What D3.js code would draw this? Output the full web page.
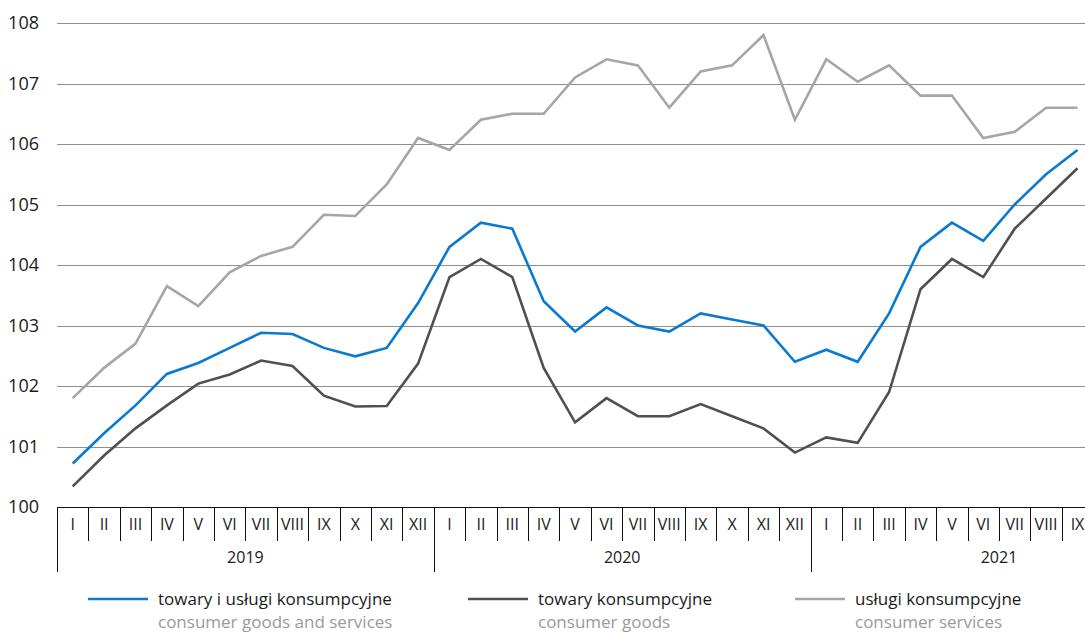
<!DOCTYPE html>
<html>
<head>
<meta charset="utf-8">
<script src="https://cdn.jsdelivr.net/npm/d3@7"></script>
<style>
  body { margin: 0; background: #fff; }
  svg { font-family: "Open Sans", "Noto Sans", sans-serif; }
</style>
</head>
<body>
<svg id="chart"></svg>
<script>
"use strict";

var periods = [
  "2019-I", "2019-II", "2019-III", "2019-IV", "2019-V", "2019-VI", "2019-VII", "2019-VIII", "2019-IX", "2019-X", "2019-XI", "2019-XII",
  "2020-I", "2020-II", "2020-III", "2020-IV", "2020-V", "2020-VI", "2020-VII", "2020-VIII", "2020-IX", "2020-X", "2020-XI", "2020-XII",
  "2021-I", "2021-II", "2021-III", "2021-IV", "2021-V", "2021-VI", "2021-VII", "2021-VIII", "2021-IX"
];
var years = ["2019", "2020", "2021"];
var yTicks = [100, 101, 102, 103, 104, 105, 106, 107, 108];

// towary i uslugi konsumpcyjne
var total = [
  100.72, 101.22, 101.68, 102.2, 102.38, 102.63, 102.88, 102.86, 102.63, 102.49, 102.63, 103.37,
  104.3, 104.7, 104.6, 103.4, 102.9, 103.3, 103.0, 102.9, 103.2, 103.1, 103.0, 102.4,
  102.6, 102.4, 103.2, 104.3, 104.7, 104.4, 105.0, 105.5, 105.9
];
// towary konsumpcyjne
var goods = [
  100.34, 100.85, 101.3, 101.68, 102.04, 102.19, 102.42, 102.33, 101.84, 101.66, 101.67, 102.37,
  103.8, 104.1, 103.8, 102.3, 101.4, 101.8, 101.5, 101.5, 101.7, 101.5, 101.3, 100.9,
  101.15, 101.06, 101.9, 103.6, 104.1, 103.8, 104.6, 105.1, 105.6
];
// uslugi konsumpcyjne
var services = [
  101.8, 102.3, 102.7, 103.65, 103.32, 103.88, 104.15, 104.3, 104.83, 104.81, 105.33, 106.1,
  105.9, 106.4, 106.5, 106.5, 107.1, 107.4, 107.3, 106.6, 107.2, 107.3, 107.8, 106.4,
  107.4, 107.03, 107.3, 106.8, 106.8, 106.1, 106.2, 106.6, 106.6
];

var series = [
  { pl: "towary i usługi konsumpcyjne", en: "consumer goods and services", values: total, color: "#0a7ad0" },
  { pl: "towary konsumpcyjne", en: "consumer goods", values: goods, color: "#505050" },
  { pl: "usługi konsumpcyjne", en: "consumer services", values: services, color: "#a6a6a6" }
];

var width = 1085, height = 634;
var marginLeft = 57, plotTop = 23, plotBottom = 507;
var step = 31.4;

var svg = d3.select("#chart").attr("width", width).attr("height", height);

var x = d3.scaleBand()
  .domain(periods)
  .range([marginLeft, marginLeft + periods.length * step])
  .padding(0);
var y = d3.scaleLinear().domain([100, 108]).range([plotBottom, plotTop]);

// gridlines + y labels
svg.append("g")
  .selectAll("line")
  .data(yTicks.slice(1))
  .enter()
  .append("line")
  .attr("x1", marginLeft)
  .attr("x2", width)
  .attr("y1", (d) => Math.round(y(d)) + 0.5)
  .attr("y2", (d) => Math.round(y(d)) + 0.5)
  .attr("stroke", "#8f8f8f")
  .attr("stroke-width", 1);

svg.append("g")
  .selectAll("text")
  .data(yTicks)
  .enter()
  .append("text")
  .attr("x", 39)
  .attr("y", (d) => y(d) + 6)
  .attr("text-anchor", "end")
  .attr("font-size", 18)
  .attr("fill", "#1a1a1a")
  .text((d) => d);

// x axis baseline
svg.append("line")
  .attr("x1", marginLeft)
  .attr("x2", width)
  .attr("y1", plotBottom + 0.5)
  .attr("y2", plotBottom + 0.5)
  .attr("stroke", "#111")
  .attr("stroke-width", 1);

// month separators, longer at year starts
var ax = svg.append("g");
ax.selectAll(".mtick")
  .data(periods)
  .enter()
  .append("line")
  .attr("class", "mtick")
  .attr("x1", (d) => Math.round(x(d)) + 0.5)
  .attr("x2", (d) => Math.round(x(d)) + 0.5)
  .attr("y1", plotBottom)
  .attr("y2", (d, i) => (i % 12 === 0 ? 572 : 541))
  .attr("stroke", "#111")
  .attr("stroke-width", 1);

ax.selectAll(".mlabel")
  .data(periods)
  .enter()
  .append("text")
  .attr("class", "mlabel")
  .attr("x", (d) => x(d) + x.bandwidth() / 2)
  .attr("y", 530)
  .attr("text-anchor", "middle")
  .attr("font-size", 16)
  .attr("fill", "#1a1a1a")
  .text((d) => d.split("-")[1]);

ax.selectAll(".ylabel")
  .data(years)
  .enter()
  .append("text")
  .attr("class", "ylabel")
  .attr("x", (d) => x(d + "-I") + 6 * step)
  .attr("y", 563)
  .attr("text-anchor", "middle")
  .attr("font-size", 16)
  .attr("fill", "#1a1a1a")
  .text((d) => d);

// lines
var line = d3.line()
  .x((d, i) => x(periods[i]) + x.bandwidth() / 2)
  .y((d) => y(d));

svg.selectAll(".series")
  .data(series.slice().reverse())
  .enter()
  .append("path")
  .attr("class", "series")
  .attr("d", (d) => line(d.values))
  .attr("fill", "none")
  .attr("stroke", (d) => d.color)
  .attr("stroke-width", 2.6)
  .attr("stroke-linejoin", "miter");

// legend
var legendX = [88, 468, 795];
var legend = svg.selectAll(".legend")
  .data(series)
  .enter()
  .append("g")
  .attr("class", "legend")
  .attr("transform", (d, i) => `translate(${legendX[i]},0)`);

legend.append("line")
  .attr("x1", 0)
  .attr("x2", (d, i) => (i === 2 ? 50 : 60))
  .attr("y1", 599)
  .attr("y2", 599)
  .attr("stroke", (d) => d.color)
  .attr("stroke-width", 2.6);

legend.append("text")
  .attr("x", (d, i) => (i === 2 ? 60 : 70))
  .attr("y", 605)
  .attr("font-size", 17)
  .attr("fill", "#1a1a1a")
  .text((d) => d.pl);

legend.append("text")
  .attr("x", (d, i) => (i === 2 ? 60 : 70))
  .attr("y", 628)
  .attr("font-size", 17)
  .attr("fill", "#9a9a9a")
  .text((d) => d.en);
</script>
</body>
</html>
